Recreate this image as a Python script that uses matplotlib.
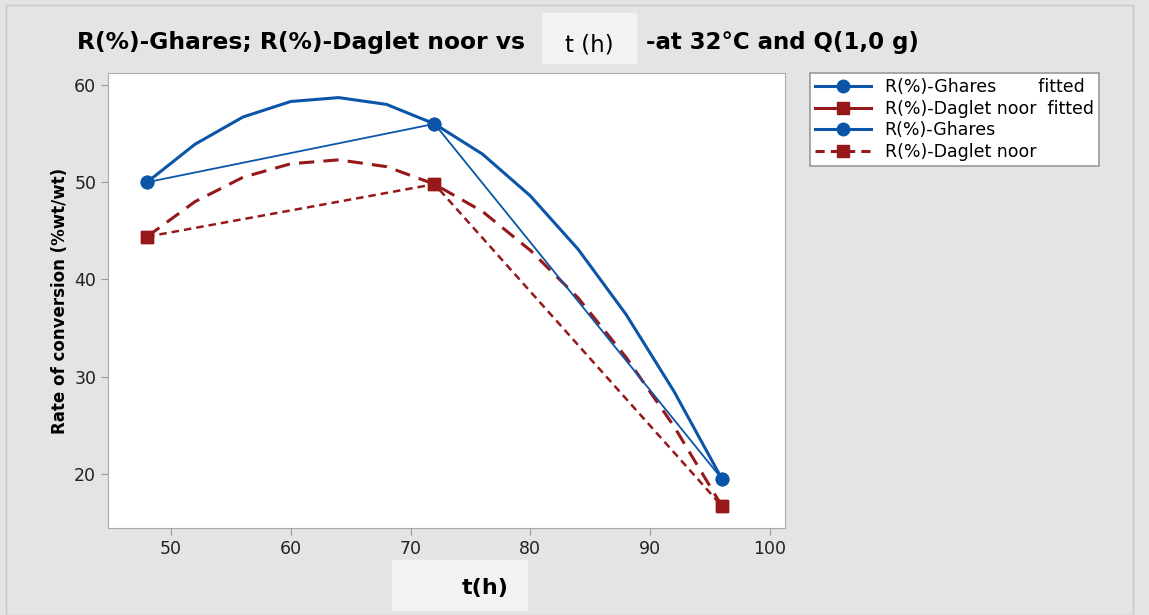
import numpy as np
import matplotlib
matplotlib.use("Agg")
import matplotlib.pyplot as plt
from matplotlib.patches import Rectangle

# observed points
t_obs = [48, 72, 96]
r_ghares = [50.0, 56.0, 19.5]
r_daglet = [44.4, 49.8, 16.7]

# fitted curves
t_fit = [48, 52, 56, 60, 64, 68, 72, 76, 80, 84, 88, 92, 96]
r_ghares_fit = [50.0, 53.9, 56.7, 58.3, 58.7, 58.0, 56.0, 52.9, 48.6, 43.1, 36.4, 28.5, 19.5]
r_daglet_fit = [44.4, 48.0, 50.5, 51.9, 52.3, 51.6, 49.8, 47.0, 43.0, 38.1, 32.0, 24.9, 16.7]

xticks = [50, 60, 70, 80, 90, 100]
yticks = [20, 30, 40, 50, 60]

blue = "#0a55a8"
red = "#961818"
bg = "#e4e4e4"

W, H = 1149, 615
fig = plt.figure(figsize=(11.49, 6.15), dpi=100, facecolor=bg)

# thin outer frame
fig.patches.append(Rectangle((6 / W, 0), 1127 / W, 1 - 5 / H, transform=fig.transFigure,
                             fill=False, edgecolor="#c8c8c8", lw=1, zorder=0))

ax = fig.add_axes([0.094, 0.1415, 0.589, 0.7398])
ax.set_facecolor("white")

ax.plot(t_fit, r_ghares_fit, color=blue, lw=2.2, marker="o", ms=9, markevery=[0, 6, 12])
ax.plot(t_fit, r_daglet_fit, color=red, lw=2.2, ls=(0, (5, 3)), marker="s", ms=9,
        markevery=[0, 6, 12])
ax.plot(t_obs, r_ghares, color=blue, lw=1.3, marker="o", ms=9)
ax.plot(t_obs, r_daglet, color=red, lw=1.8, ls=(0, (3, 2)), marker="s", ms=9)

ax.set_xlim(44.74, 101.25)
ax.set_ylim(14.45, 61.23)
ax.set_xticks(xticks)
ax.set_yticks(yticks)
ax.tick_params(labelsize=12.5, colors="#222222", length=5, color="#999999")
for s in ax.spines.values():
    s.set_color("#aaaaaa")

# legend handles (fitted shown as solid lines)
h1 = plt.Line2D([], [], color=blue, lw=2.2, marker="o", ms=9)
h2 = plt.Line2D([], [], color=red, lw=2.2, marker="s", ms=9)
h3 = plt.Line2D([], [], color=blue, lw=2.2, marker="o", ms=9)
h4 = plt.Line2D([], [], color=red, lw=2.2, ls=(0, (3, 2)), marker="s", ms=9)
leg = fig.legend([h1, h2, h3, h4],
                 ["R(%)-Ghares       \u2009fitted", "R(%)-Daglet noor  fitted",
                  "R(%)-Ghares", "R(%)-Daglet noor"],
                 loc="upper left", bbox_to_anchor=(810 / W, 1 - 73 / H), borderaxespad=0,
                 fontsize=12.5, fancybox=False, edgecolor="#999999", framealpha=1,
                 handlelength=3.2, borderpad=0.3, labelspacing=0.2, handletextpad=0.8)
leg.get_frame().set_linewidth(1.2)

# title with highlighted box
fig.patches.append(Rectangle((542 / W, 1 - 63 / H), 94 / W, 50 / H,
                             transform=fig.transFigure, color="#f2f2f2", zorder=0))
fig.text(77 / W, 1 - 43 / H, "R(%)-Ghares; R(%)-Daglet noor vs", fontsize=16.8,
         fontweight="bold", va="center", ha="left")
fig.text(589 / W, 1 - 45 / H, "t (h)", fontsize=16.5, va="center", ha="center")
fig.text(646 / W, 1 - 43 / H, "-at 32\u00b0C and Q(1,0 g)", fontsize=16.5,
         fontweight="bold", va="center", ha="left")

# x label box
fig.patches.append(Rectangle((392 / W, 1 - 610 / H), 135 / W, 50 / H,
                             transform=fig.transFigure, color="#f2f2f2", zorder=0))
fig.text(485 / W, 1 - 588 / H, "t(h)", fontsize=16, fontweight="bold",
         va="center", ha="center")

ax.set_ylabel("Rate of conversion (%wt/wt)", fontsize=12, fontweight="bold", labelpad=4)

fig.savefig("out.png", dpi=100, facecolor=bg)
